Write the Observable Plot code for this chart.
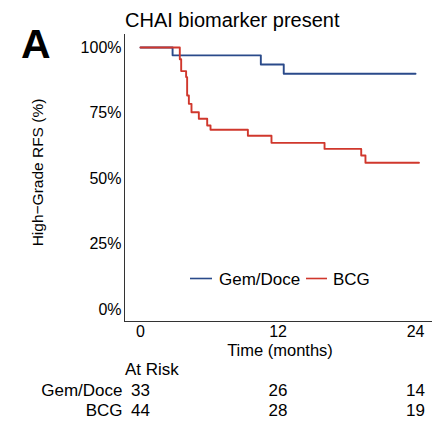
<!DOCTYPE html>
<html>
<head>
<meta charset="utf-8">
<script src="https://cdn.jsdelivr.net/npm/d3@7"></script>
<script src="https://cdn.jsdelivr.net/npm/@observablehq/plot@0.6"></script>
<style>
  html, body { margin: 0; padding: 0; background: #fff; }
  #wrap { position: relative; width: 436px; height: 430px; font-family: "Liberation Sans", Arial, Helvetica, sans-serif; }
  #wrap > svg, #wrap > div { position: absolute; left: 0; }
</style>
</head>
<body>
<div id="wrap"></div>
<script>
// ---- data ----
const groups = ["Gem/Doce", "BCG"];
const colors = ["#2a4a8a", "#d0372c"];
const gemTime = [0, 2.8, 10.5, 12.5, 24];
const gemSurv = [1, 0.97, 0.935, 0.90, 0.90];
const bcgTime = [0, 3.43, 3.55, 3.98, 4.07, 4.22, 4.45, 5.09, 5.82, 6.11, 9.37, 11.43, 16.06, 19.26, 19.63, 24.3];
const bcgSurv = [1, 0.955, 0.91, 0.887, 0.817, 0.785, 0.753, 0.728, 0.702, 0.686, 0.663, 0.636, 0.613, 0.588, 0.560, 0.560];
const xTicks = [0, 12, 24];
const yTicks = [0, 0.25, 0.5, 0.75, 1];
const riskTimes = [0, 12, 24];
const gemRisk = [33, 26, 14];
const bcgRisk = [44, 28, 19];
const titleText = "CHAI biomarker present";
const panelLetter = "A";
const xLabel = "Time (months)";
const yLabel = "High\u2212Grade RFS (%)";
const riskHeader = "At Risk";

// ---- build tables ----
const curves = [
  ...gemTime.map((t, i) => ({group: groups[0], t, s: gemSurv[i]})),
  ...bcgTime.map((t, i) => ({group: groups[1], t, s: bcgSurv[i]}))
];
const risk = [
  ...riskTimes.map((t, i) => ({group: groups[0], t, n: gemRisk[i]})),
  ...riskTimes.map((t, i) => ({group: groups[1], t, n: bcgRisk[i]}))
];

const W = 436;
const font = "'Liberation Sans', Arial, Helvetica, sans-serif";
const xDomain = [-1.396, 25.48];
const yDomain = [-0.0458, 1.0496];
const mL = 124, mR = 4;

const main = Plot.plot({
  width: W, height: 360,
  marginTop: 34, marginBottom: 39, marginLeft: mL, marginRight: mR,
  style: {fontFamily: font, fontSize: "16px", color: "#000", background: "transparent"},
  x: {domain: xDomain},
  y: {domain: yDomain},
  color: {domain: groups, range: colors},
  marks: [
    Plot.ruleX([xDomain[0]], {stroke: "#333", strokeWidth: 1}),
    Plot.ruleY([yDomain[0]], {stroke: "#333", strokeWidth: 1}),
    Plot.line(curves, {x: "t", y: "s", z: "group", stroke: "group", curve: "step-after", strokeWidth: 1.9}),
    Plot.axisX({ticks: xTicks, tickSize: 0, tickPadding: 4, fontSize: 16, label: null}),
    Plot.axisY({ticks: yTicks, tickSize: 0, tickPadding: 3, fontSize: 16, tickFormat: d3.format(".0%"), label: null})
  ]
});
main.style.top = "0px";

const table = Plot.plot({
  width: W, height: 70,
  marginTop: 30, marginBottom: 20, marginLeft: mL, marginRight: mR,
  style: {fontFamily: font, fontSize: "17px", color: "#000", background: "transparent"},
  x: {domain: xDomain, axis: null},
  y: {domain: groups, type: "point", padding: 0},
  marks: [
    Plot.text(risk, {x: "t", y: "group", text: "n", fontSize: 17, textAnchor: "middle"}),
    Plot.axisY({tickSize: 0, tickPadding: 2, fontSize: 17, label: null})
  ]
});
table.style.top = "360px";

const wrap = document.getElementById("wrap");
wrap.appendChild(main);
wrap.appendChild(table);

// overlay: panel letter, title, axis titles, at-risk header, legend
const ov = d3.select(wrap).append("svg")
  .attr("width", W).attr("height", 430)
  .style("position", "absolute").style("left", "0px").style("top", "0px")
  .style("font-family", font);
ov.append("text").attr("x", 21).attr("y", 58).attr("font-size", 41).attr("font-weight", "bold").text(panelLetter);
ov.append("text").attr("x", 125).attr("y", 27).attr("font-size", 20).text(titleText);
ov.append("text").attr("x", 280).attr("y", 356).attr("font-size", 16.5).attr("text-anchor", "middle").text(xLabel);
ov.append("text").attr("transform", "translate(43,172.5) rotate(-90)").attr("font-size", 15.5).attr("text-anchor", "middle").text(yLabel);
ov.append("text").attr("x", 125).attr("y", 375).attr("font-size", 17).text(riskHeader);
const leg = [
  {x1: 190, x2: 212, tx: 219},
  {x1: 306, x2: 327, tx: 333}
];
groups.forEach((g, i) => {
  ov.append("line").attr("x1", leg[i].x1).attr("x2", leg[i].x2).attr("y1", 278.5).attr("y2", 278.5)
    .attr("stroke", colors[i]).attr("stroke-width", 1.6);
  ov.append("text").attr("x", leg[i].tx).attr("y", 284.5).attr("font-size", 17).text(g);
});
</script>
</body>
</html>
